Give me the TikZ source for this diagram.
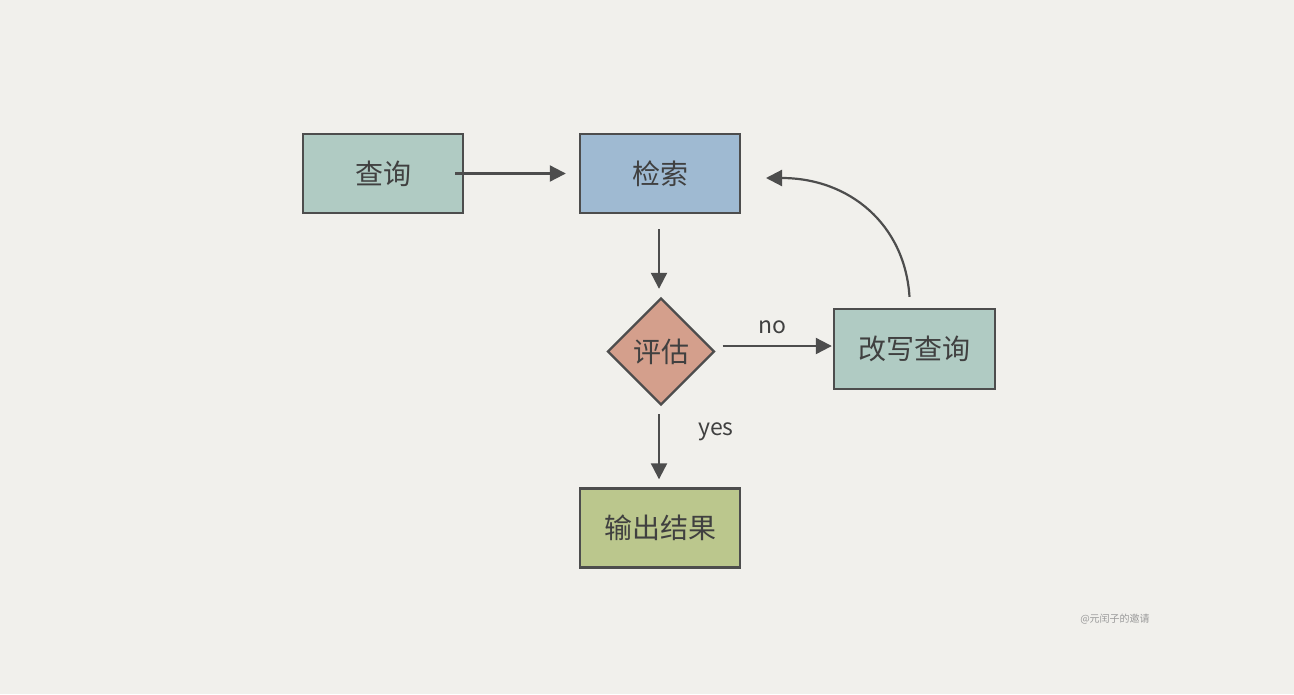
\documentclass[tikz,border=0pt]{standalone}
\usepackage{fontspec}
\setmainfont{Noto Sans CJK SC}
\newfontfamily\cjk{Noto Sans CJK SC}
\usetikzlibrary{shapes.geometric,arrows.meta}
\definecolor{bgc}{HTML}{F1F0EC}
\definecolor{strokec}{HTML}{4D4D4D}
\definecolor{textc}{HTML}{404040}
\definecolor{tealc}{HTML}{B0CBC3}
\definecolor{bluec}{HTML}{9FBAD2}
\definecolor{redc}{HTML}{D49F8C}
\definecolor{greenc}{HTML}{BBC78D}
\begin{document}
\begin{tikzpicture}[x=1pt,y=-1pt,
  box/.style={draw=strokec,line width=2.4pt,minimum width=160pt,minimum height=79pt,inner sep=0pt,text=textc,font=\cjk\fontsize{28}{30}\selectfont},
  dia/.style={diamond,draw=strokec,line width=2.4pt,minimum width=107pt,minimum height=107pt,inner sep=0pt,text=textc,font=\cjk\fontsize{28}{30}\selectfont},
  conn/.style={draw=strokec,line width=2.2pt,-{Triangle[length=16pt,width=16pt]}},
  lbl/.style={text=textc,font=\fontsize{23}{25}\selectfont}]
\fill[bgc] (0,0) rectangle (1294,694);
\useasboundingbox (0,0) rectangle (1294,694);
\node[box,fill=tealc] (q) at (383,173.5) {查询};
\node[box,fill=bluec] (s) at (660,173.5) {检索};
\node[dia,fill=redc] (e) at (661,351.5) {评估};
\node[box,fill=tealc,minimum width=161pt,minimum height=80pt] (r) at (914.5,349) {改写查询};
\node[box,fill=greenc] (o) at (660,528) {输出结果};
\coordinate (qs) at (455,173.5);
\coordinate (rt) at (766,178);
\draw[conn] (qs) -- ([xshift=-13pt]s.west);
\draw[conn] ([xshift=-1pt,yshift=-15pt]s.south) -- ([xshift=-2pt,yshift=8pt]e.north);
\draw[conn] ([xshift=7pt,yshift=5.5pt]e.east) -- ([xshift=-1pt,yshift=3pt]r.west);
\draw[conn] ([xshift=-2pt,yshift=-8pt]e.south) -- ([xshift=-1pt,yshift=8pt]o.north);
\draw[conn] ([xshift=-5pt,yshift=11pt]r.north) .. controls (905,225) and (850,178) .. (rt);
\node[lbl] (no) at (772,327) {no};
\node[lbl] (yes) at (716,432) {yes};
\node[text=gray!80,font=\cjk\fontsize{10}{12}\selectfont] (wm) at (1115,619) {@元闰子的邀请};
\end{tikzpicture}
\end{document}
